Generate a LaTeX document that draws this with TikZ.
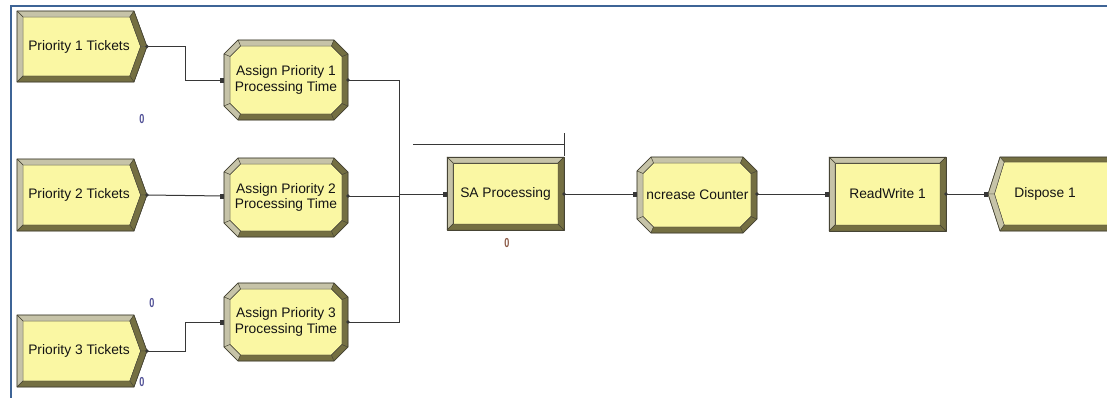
\documentclass[tikz,border=0pt]{standalone}
\usepackage{fontspec}
\setmainfont{Liberation Sans}
\usetikzlibrary{calc}

\definecolor{modfill}{RGB}{250,247,163}
\definecolor{bevlight}{RGB}{198,195,168}
\definecolor{bevdark}{RGB}{116,111,66}
\definecolor{edgecol}{RGB}{70,68,52}
\definecolor{wirecol}{RGB}{55,55,55}
\definecolor{frameblue}{RGB}{62,100,150}
\definecolor{cntblue}{RGB}{80,80,150}
\definecolor{cntbrown}{RGB}{140,90,70}

\tikzset{
  lbl/.style={font=\fontsize{13.8}{15.5}\selectfont, text=black!92, align=center, inner sep=0pt},
  light/.style={fill=bevlight, draw=edgecol, line width=0.4pt, line join=round},
  dark/.style={fill=bevdark, draw=edgecol, line width=0.4pt, line join=round},
  face/.style={fill=modfill, draw=edgecol, line width=0.4pt},
  outline/.style={draw=edgecol, line width=0.6pt, line join=round},
  wire/.style={draw=wirecol, line width=1pt},
  cnt/.style={font=\fontsize{13}{14}\selectfont\bfseries, inner sep=0pt, xscale=0.7, transform shape},
  entrymark/.style={fill=wirecol},
}

% Plain rectangular module with a bevelled border: L, T, R, B
\newcommand\rectmod[4]{%
  \path[face] ({#1+6},{#2+6}) rectangle ({#3-6},{#4-6});
  \path[light] (#1,#2) -- (#3,#2) -- ({#3-6},{#2+6}) -- ({#1+6},{#2+6}) -- cycle;
  \path[light] (#1,#2) -- ({#1+6},{#2+6}) -- ({#1+6},{#4-6}) -- (#1,#4) -- cycle;
  \path[dark] (#1,#4) -- ({#1+6},{#4-6}) -- ({#3-6},{#4-6}) -- (#3,#4) -- cycle;
  \path[dark] (#3,#2) -- (#3,#4) -- ({#3-6},{#4-6}) -- ({#3-6},{#2+6}) -- cycle;
  \path[outline] (#1,#2) rectangle (#3,#4);
}

% Octagonal module (corners cut at 45 degrees): L, T, R, B
\newcommand\octmod[4]{%
  \path[face] ({#1+16.5},{#2+6}) -- ({#3-16.5},{#2+6}) -- ({#3-6},{#2+16.5}) -- ({#3-6},{#4-16.5})
     -- ({#3-16.5},{#4-6}) -- ({#1+16.5},{#4-6}) -- ({#1+6},{#4-16.5}) -- ({#1+6},{#2+16.5}) -- cycle;
  % top, top-left, left, bottom-left: light
  \path[light] ({#1+14},#2) -- ({#3-14},#2) -- ({#3-16.5},{#2+6}) -- ({#1+16.5},{#2+6}) -- cycle;
  \path[light] (#1,{#2+14}) -- ({#1+14},#2) -- ({#1+16.5},{#2+6}) -- ({#1+6},{#2+16.5}) -- cycle;
  \path[light] (#1,{#2+14}) -- ({#1+6},{#2+16.5}) -- ({#1+6},{#4-16.5}) -- (#1,{#4-14}) -- cycle;
  \path[light] (#1,{#4-14}) -- ({#1+6},{#4-16.5}) -- ({#1+16.5},{#4-6}) -- ({#1+14},#4) -- cycle;
  % bottom, bottom-right, right, top-right: dark
  \path[dark] ({#1+14},#4) -- ({#1+16.5},{#4-6}) -- ({#3-16.5},{#4-6}) -- ({#3-14},#4) -- cycle;
  \path[dark] ({#3-14},#4) -- ({#3-16.5},{#4-6}) -- ({#3-6},{#4-16.5}) -- (#3,{#4-14}) -- cycle;
  \path[dark] (#3,{#4-14}) -- ({#3-6},{#4-16.5}) -- ({#3-6},{#2+16.5}) -- (#3,{#2+14}) -- cycle;
  \path[dark] (#3,{#2+14}) -- ({#3-6},{#2+16.5}) -- ({#3-16.5},{#2+6}) -- ({#3-14},#2) -- cycle;
  \path[outline] ({#1+14},#2) -- ({#3-14},#2) -- (#3,{#2+14}) -- (#3,{#4-14}) -- ({#3-14},#4)
     -- ({#1+14},#4) -- (#1,{#4-14}) -- (#1,{#2+14}) -- cycle;
}

% Source module, pointed on the right: L, T, R, B
\newcommand\srcmod[4]{%
  \path[face] ({#1+6},{#2+6}) -- ({#3-17.2},{#2+6}) -- ({#3-6.4},{(#2+#4)/2}) -- ({#3-17.2},{#4-6}) -- ({#1+6},{#4-6}) -- cycle;
  \path[light] (#1,#2) -- ({#3-13},#2) -- ({#3-17.2},{#2+6}) -- ({#1+6},{#2+6}) -- cycle;
  \path[light] (#1,#2) -- ({#1+6},{#2+6}) -- ({#1+6},{#4-6}) -- (#1,#4) -- cycle;
  \path[dark] ({#3-13},#2) -- (#3,{(#2+#4)/2}) -- ({#3-6.4},{(#2+#4)/2}) -- ({#3-17.2},{#2+6}) -- cycle;
  \path[dark] (#3,{(#2+#4)/2}) -- ({#3-13},#4) -- ({#3-17.2},{#4-6}) -- ({#3-6.4},{(#2+#4)/2}) -- cycle;
  \path[dark] (#1,#4) -- ({#1+6},{#4-6}) -- ({#3-17.2},{#4-6}) -- ({#3-13},#4) -- cycle;
  \path[outline] (#1,#2) -- ({#3-13},#2) -- (#3,{(#2+#4)/2}) -- ({#3-13},#4) -- (#1,#4) -- cycle;
}

% Sink module, pointed on the left: L, T, R, B
\newcommand\sinkmod[4]{%
  \path[face] ({#1+16.2},{#2+5}) -- ({#3-6},{#2+5}) -- ({#3-6},{#4-6}) -- ({#1+16.2},{#4-6}) -- ({#1+6.4},{(#2+#4)/2}) -- cycle;
  \path[dark] ({#1+12},#2) -- (#3,#2) -- ({#3-6},{#2+5}) -- ({#1+16.2},{#2+5}) -- cycle;
  \path[light] ({#1+12},#2) -- ({#1+16.2},{#2+5}) -- ({#1+6.4},{(#2+#4)/2}) -- (#1,{(#2+#4)/2}) -- cycle;
  \path[light] (#1,{(#2+#4)/2}) -- ({#1+6.4},{(#2+#4)/2}) -- ({#1+16.2},{#4-6}) -- ({#1+12},#4) -- cycle;
  \path[dark] ({#1+12},#4) -- ({#1+16.2},{#4-6}) -- ({#3-6},{#4-6}) -- (#3,#4) -- cycle;
  \path[outline] ({#1+12},#2) -- (#3,#2) -- (#3,#4) -- ({#1+12},#4) -- (#1,{(#2+#4)/2}) -- cycle;
}

\begin{document}
\begin{tikzpicture}[x=1pt,y=-1pt]
  \clip (0,0) rectangle (1107,397);
  \fill[white] (0,0) rectangle (1107,397);

  % window frame
  \draw[frameblue, line width=2pt] (10.5,398) -- (10.5,5.5) -- (1108,5.5);

  % module bodies
  \srcmod{17}{11}{147}{82}
  \srcmod{17}{159}{147}{231}
  \srcmod{17}{315}{147}{387}
  \octmod{224}{40}{348}{120}
  \octmod{224}{158}{348}{237}
  \octmod{224}{283}{348}{361}
  \rectmod{447}{157}{564}{230}
  \octmod{637}{157}{757}{233}
  \rectmod{829}{157}{946}{231}
  \sinkmod{988}{157}{1125}{231}

  % module labels
  \node[lbl] (p1) at (79,46.5) {Priority 1 Tickets};
  \node[lbl] (p2) at (79,195) {Priority 2 Tickets};
  \node[lbl] (p3) at (79,351) {Priority 3 Tickets};
  \node[lbl] (a1) at (286,80) {Assign Priority 1\\Processing Time};
  \node[lbl] (a2) at (286,197.5) {Assign Priority 2\\Processing Time};
  \node[lbl] (a3) at (286,322) {Assign Priority 3\\Processing Time};
  \node[lbl] (sa) at (505.5,193.5) {SA Processing};
  \node[lbl] (ic) at (697.5,195) {ncrease Counter};
  \node[lbl] (rw) at (887.5,194) {ReadWrite 1};
  \node[lbl] (dp) at (1045,194) {Dispose 1};

  % connection points
  \coordinate (p1out) at (147,46.5);
  \coordinate (p2out) at (147,195);
  \coordinate (p3out) at (147,351);
  \coordinate (a1in) at (224,80);
  \coordinate (a2in) at (224,196);
  \coordinate (a3in) at (224,322);
  \coordinate (a1out) at (348,80);
  \coordinate (a2out) at (348,196);
  \coordinate (a3out) at (348,322);
  \coordinate (bus) at (399,194);
  \coordinate (sain) at (447,194);
  \coordinate (saout) at (564,194);
  \coordinate (icin) at (637,194);
  \coordinate (icout) at (757,194);
  \coordinate (rwin) at (829,194);
  \coordinate (rwout) at (946,194);
  \coordinate (dpin) at (988,194);

  % connectors
  \draw[wire] (p1out) -- ++(38,0) |- (a1in);
  \draw[wire] (p2out) -- (a2in);
  \draw[wire] (p3out) -- ++(38,0) |- (a3in);
  \draw[wire] (a1out) -| (bus);
  \draw[wire] (a2out) -| (bus);
  \draw[wire] (a3out) -| (bus);
  \draw[wire] (bus) -- (sain);
  \draw[wire] (saout) -- (icin);
  \draw[wire] (icout) -- (rwin);
  \draw[wire] (rwout) -- (dpin);

  % entry and exit points
  \foreach \p in {a1in,a2in,a3in,sain,icin,rwin,dpin}
    \fill[entrymark] ($(\p)+(-4,-2.5)$) rectangle ($(\p)+(0,2.5)$);
  \foreach \p in {p1out,p2out,p3out,a1out,a2out,a3out,saout,icout,rwout}
    \fill[entrymark] (\p) circle (1.8);

  % queue of the process module
  \draw[wire, line width=0.8pt] (413,144) -- (564,144);
  \draw[wire, line width=0.8pt] (564,133) -- (564,156);

  % counters
  \node[cnt, text=cntblue] (c1) at (142,119) {0};
  \node[cnt, text=cntblue] (c2) at (152,303) {0};
  \node[cnt, text=cntblue] (c3) at (142,382) {0};
  \node[cnt, text=cntbrown] (c4) at (507,243) {0};
\end{tikzpicture}
\end{document}
